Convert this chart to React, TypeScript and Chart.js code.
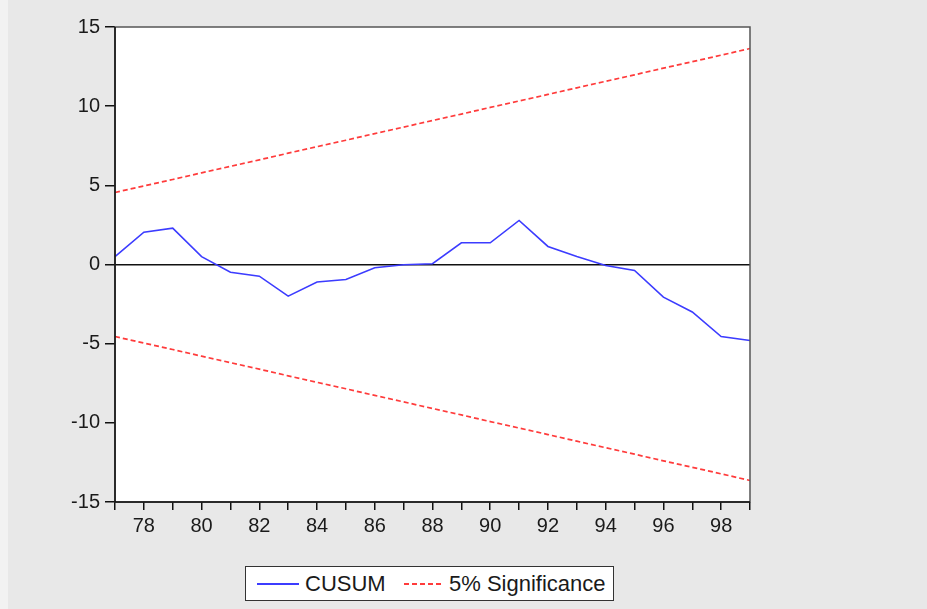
import React, { useEffect, useRef } from "react";
import { Chart, registerables } from "chart.js";

Chart.register(...registerables);

const years: string[] = ["77","78","79","80","81","82","83","84","85","86","87","88","89","90","91","92","93","94","95","96","97","98","99"];
const cusum: number[] = [0.5, 2.04, 2.3, 0.5, -0.49, -0.74, -2.0, -1.1, -0.95, -0.2, -0.02, 0.05, 1.37, 1.37, 2.78, 1.14, 0.5, -0.06, -0.38, -2.06, -3.0, -4.55, -4.8];
const upper5: number[] = [4.55, 4.96, 5.37, 5.79, 6.2, 6.61, 7.03, 7.44, 7.85, 8.27, 8.68, 9.09, 9.5, 9.92, 10.33, 10.74, 11.16, 11.57, 11.98, 12.4, 12.81, 13.22, 13.64];
const lower5: number[] = [-4.55, -4.96, -5.37, -5.79, -6.2, -6.61, -7.03, -7.44, -7.85, -8.27, -8.68, -9.09, -9.5, -9.92, -10.33, -10.74, -11.16, -11.57, -11.98, -12.4, -12.81, -13.22, -13.64];
const yTicks: number[] = [-15, -10, -5, 0, 5, 10, 15];
const legendLabels: string[] = ["CUSUM", "5% Significance"];

const FONT = "'Liberation Sans', Arial, sans-serif";
const TEXT = "#1a1a1a";
const BLUE = "#3c3cff";
const RED = "#ff3b3b";

const frame = {
  id: "frame",
  beforeDraw(chart: any) {
    const { ctx, chartArea } = chart;
    ctx.save();
    ctx.fillStyle = "#ffffff";
    ctx.fillRect(chartArea.left, chartArea.top, chartArea.right - chartArea.left, chartArea.bottom - chartArea.top);
    ctx.restore();
  },
  afterDraw(chart: any) {
    const { ctx, chartArea } = chart;
    ctx.save();
    ctx.strokeStyle = "#555555";
    ctx.lineWidth = 1.5;
    ctx.strokeRect(chartArea.left, chartArea.top, chartArea.right - chartArea.left, chartArea.bottom - chartArea.top);
    ctx.strokeStyle = "#111111";
    ctx.beginPath();
    ctx.moveTo(chartArea.left, chartArea.top);
    ctx.lineTo(chartArea.left, chartArea.bottom);
    ctx.lineTo(chartArea.right, chartArea.bottom);
    ctx.stroke();
    ctx.restore();
  },
};

export default function App() {
  const ref = useRef<HTMLCanvasElement | null>(null);
  useEffect(() => {
    if (!ref.current) return;
    const chart = new Chart(ref.current, {
      type: "line",
      data: {
        labels: years,
        datasets: [
          { label: legendLabels[0], data: cusum, borderColor: BLUE, borderWidth: 1.6, pointRadius: 0, tension: 0, fill: false, order: 1 },
          { label: legendLabels[1], data: upper5, borderColor: RED, borderWidth: 1.7, borderDash: [5, 3], pointRadius: 0, tension: 0, fill: false, order: 2 },
          { label: legendLabels[1], data: lower5, borderColor: RED, borderWidth: 1.7, borderDash: [5, 3], pointRadius: 0, tension: 0, fill: false, order: 2 },
        ],
      },
      plugins: [frame],
      options: {
        animation: false,
        responsive: false,
        maintainAspectRatio: false,
        layout: { padding: { left: 45, right: 177, top: 27, bottom: 62 } },
        plugins: { legend: { display: false }, tooltip: { enabled: false } },
        scales: {
          x: {
            type: "category",
            offset: false,
            grid: { display: true, drawOnChartArea: false, drawTicks: true, tickLength: 8, color: "#111111", lineWidth: 1.5 },
            border: { display: false },
            ticks: {
              autoSkip: false,
              maxRotation: 0,
              padding: 4,
              color: TEXT,
              font: { family: FONT, size: 20 },
              callback: (_v: any, i: number) => (parseInt(years[i], 10) % 2 === 0 ? years[i] : ""),
            },
            afterFit: (s: any) => { s.height = 45; },
          },
          y: {
            min: -15,
            max: 15,
            afterBuildTicks: (s: any) => { s.ticks = yTicks.map((v) => ({ value: v })); },
            grid: {
              display: true,
              drawOnChartArea: true,
              drawTicks: true,
              tickLength: 10,
              color: (c: any) => (c.tick && c.tick.value === 0 ? "#111111" : "rgba(0,0,0,0)"),
              tickColor: "#111111",
              lineWidth: 1.5,
            },
            border: { display: false },
            ticks: { padding: 5, color: TEXT, font: { family: FONT, size: 20 } },
            afterFit: (s: any) => { s.width = 70; },
          },
        },
      },
    });
    return () => chart.destroy();
  }, []);

  return (
    <div style={{ position: "fixed", left: 0, top: 0, width: 927, height: 609, background: "#e8e8e8", overflow: "hidden" }}>
      <div style={{ position: "absolute", left: 0, top: 0, width: 8, height: 609, background: "#f2f2f2" }} />
      <canvas ref={ref} width={927} height={609} style={{ position: "absolute", left: 0, top: 0, width: 927, height: 609 }} />
      <div style={{ position: "absolute", left: 245, top: 566, width: 367, height: 33, background: "#ffffff", border: "1.5px solid #333333", fontFamily: FONT, fontSize: 22, color: TEXT }}>
        <svg width={369} height={33} style={{ position: "absolute", left: 0, top: 0 }}>
          <line x1={11} y1={17} x2={53} y2={17} stroke={BLUE} strokeWidth={1.8} />
          <line x1={158} y1={17} x2={198} y2={17} stroke={RED} strokeWidth={1.8} strokeDasharray="5 3" />
        </svg>
        <div style={{ position: "absolute", left: 59, top: 4, lineHeight: "25px", whiteSpace: "nowrap" }}>{legendLabels[0]}</div>
        <div style={{ position: "absolute", left: 203, top: 4, lineHeight: "25px", whiteSpace: "nowrap" }}>{legendLabels[1]}</div>
      </div>
    </div>
  );
}
